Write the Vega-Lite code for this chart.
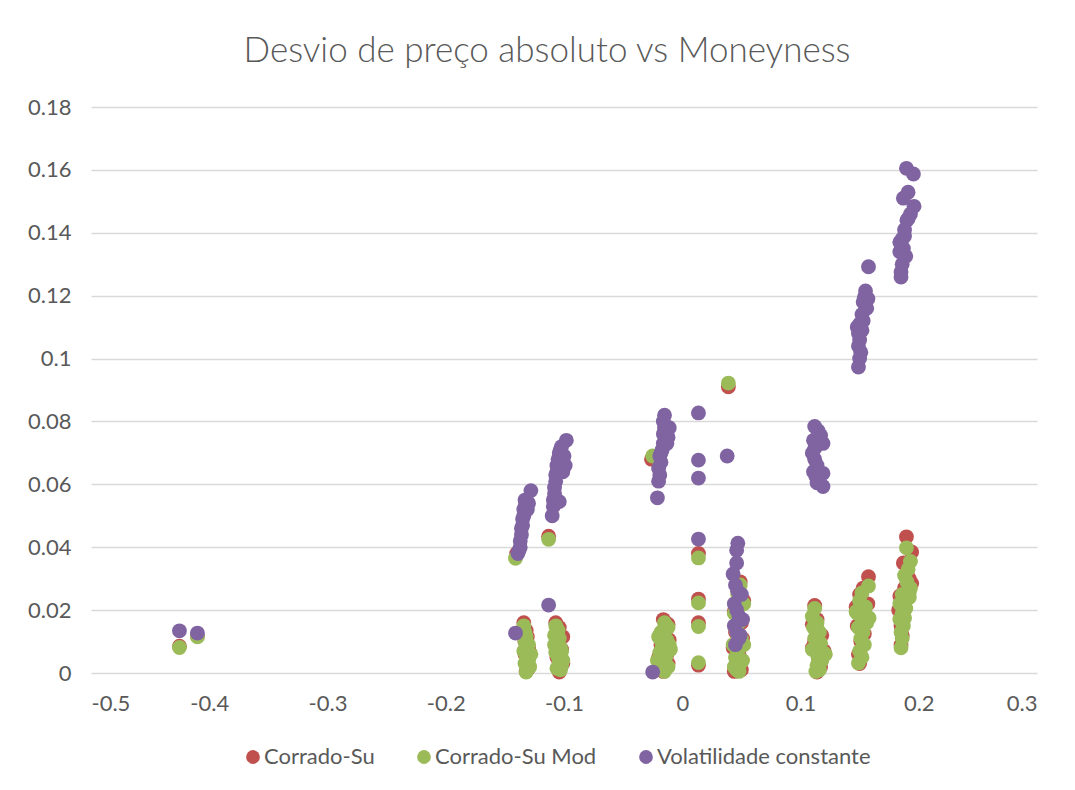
{
  "$schema": "https://vega.github.io/schema/vega-lite/v6.json",
  "autosize": {"type": "none"},
  "width": 946,
  "height": 566,
  "padding": {"left": 91, "top": 107, "right": 38, "bottom": 117},
  "background": "white",
  "title": {"text": "Desvio de preço absoluto vs Moneyness", "font": "Lato", "fontSize": 35, "fontWeight": 300, "color": "#595959", "anchor": "middle", "dx": -17, "offset": 27},
  "config": {
    "view": {"stroke": null},
    "axis": {"labelFont": "Lato", "labelFontSize": 22, "labelColor": "#595959", "domain": false, "ticks": false, "title": null, "gridColor": "#d9d9d9", "gridWidth": 1.4},
    "legend": {"orient": "none", "legendX": 151, "legendY": 639, "direction": "horizontal", "title": null, "labelFont": "Lato", "labelFontSize": 22, "labelColor": "#595959", "labelLimit": 0, "symbolType": "circle", "symbolSize": 190, "symbolStrokeWidth": 0, "columnPadding": 38, "labelOffset": 0}
  },
  "datasets": {
    "cs": [
      {"x": -0.4252, "y": 0.0085}, {"x": -0.41, "y": 0.0118},
      {"x": -0.140, "y": 0.038},
      {"x": -0.134, "y": 0.016}, {"x": -0.132, "y": 0.0135}, {"x": -0.131, "y": 0.0115}, {"x": -0.133, "y": 0.010}, {"x": -0.130, "y": 0.008}, {"x": -0.133, "y": 0.006}, {"x": -0.131, "y": 0.004}, {"x": -0.130, "y": 0.0015}, {"x": -0.132, "y": 0.0005}, {"x": -0.129, "y": 0.0065},
      {"x": -0.113, "y": 0.0435},
      {"x": -0.107, "y": 0.016}, {"x": -0.104, "y": 0.0145}, {"x": -0.101, "y": 0.0115}, {"x": -0.105, "y": 0.010}, {"x": -0.102, "y": 0.0075}, {"x": -0.106, "y": 0.005}, {"x": -0.101, "y": 0.003}, {"x": -0.104, "y": 0.0003}, {"x": -0.103, "y": 0.0015},
      {"x": -0.026, "y": 0.068},
      {"x": -0.016, "y": 0.017}, {"x": -0.012, "y": 0.0155}, {"x": -0.019, "y": 0.012}, {"x": -0.011, "y": 0.0105}, {"x": -0.018, "y": 0.009}, {"x": -0.013, "y": 0.006}, {"x": -0.020, "y": 0.005}, {"x": -0.012, "y": 0.003}, {"x": -0.016, "y": 0.0005},
      {"x": 0.0137, "y": 0.038}, {"x": 0.0137, "y": 0.0235}, {"x": 0.0137, "y": 0.016}, {"x": 0.0137, "y": 0.0025},
      {"x": 0.039, "y": 0.091},
      {"x": 0.049, "y": 0.029}, {"x": 0.047, "y": 0.026}, {"x": 0.052, "y": 0.023}, {"x": 0.044, "y": 0.0195}, {"x": 0.050, "y": 0.016}, {"x": 0.045, "y": 0.013}, {"x": 0.051, "y": 0.011}, {"x": 0.043, "y": 0.008}, {"x": 0.048, "y": 0.006}, {"x": 0.046, "y": 0.003}, {"x": 0.050, "y": 0.001}, {"x": 0.044, "y": 0.0005},
      {"x": 0.112, "y": 0.0215}, {"x": 0.114, "y": 0.017}, {"x": 0.110, "y": 0.0155}, {"x": 0.118, "y": 0.012}, {"x": 0.112, "y": 0.010}, {"x": 0.120, "y": 0.007}, {"x": 0.115, "y": 0.005}, {"x": 0.117, "y": 0.002}, {"x": 0.114, "y": 0.0003}, {"x": 0.110, "y": 0.008},
      {"x": 0.1575, "y": 0.0306}, {"x": 0.153, "y": 0.027}, {"x": 0.150, "y": 0.025}, {"x": 0.157, "y": 0.022}, {"x": 0.147, "y": 0.021}, {"x": 0.153, "y": 0.019}, {"x": 0.157, "y": 0.0175}, {"x": 0.148, "y": 0.015}, {"x": 0.154, "y": 0.0125}, {"x": 0.151, "y": 0.010}, {"x": 0.149, "y": 0.006}, {"x": 0.150, "y": 0.003},
      {"x": 0.1896, "y": 0.0433}, {"x": 0.194, "y": 0.0385}, {"x": 0.187, "y": 0.035}, {"x": 0.190, "y": 0.032}, {"x": 0.192, "y": 0.030}, {"x": 0.194, "y": 0.0285}, {"x": 0.188, "y": 0.027}, {"x": 0.184, "y": 0.0245}, {"x": 0.186, "y": 0.022}, {"x": 0.183, "y": 0.020}, {"x": 0.185, "y": 0.015}, {"x": 0.186, "y": 0.012}, {"x": 0.185, "y": 0.009}
    ],
    "csm": [
      {"x": -0.4252, "y": 0.0081}, {"x": -0.41, "y": 0.0115},
      {"x": -0.141, "y": 0.0365},
      {"x": -0.134, "y": 0.015}, {"x": -0.133, "y": 0.013}, {"x": -0.132, "y": 0.0115}, {"x": -0.133, "y": 0.010}, {"x": -0.131, "y": 0.0085}, {"x": -0.134, "y": 0.007}, {"x": -0.132, "y": 0.0055}, {"x": -0.130, "y": 0.004}, {"x": -0.133, "y": 0.003}, {"x": -0.131, "y": 0.0015}, {"x": -0.132, "y": 0.0003}, {"x": -0.129, "y": 0.002}, {"x": -0.128, "y": 0.006}, {"x": -0.130, "y": 0.009}, {"x": -0.135, "y": 0.0125},
      {"x": -0.113, "y": 0.0425},
      {"x": -0.107, "y": 0.015}, {"x": -0.105, "y": 0.0135}, {"x": -0.108, "y": 0.012}, {"x": -0.104, "y": 0.011}, {"x": -0.106, "y": 0.0095}, {"x": -0.103, "y": 0.008}, {"x": -0.107, "y": 0.0065}, {"x": -0.105, "y": 0.005}, {"x": -0.102, "y": 0.007}, {"x": -0.104, "y": 0.003}, {"x": -0.106, "y": 0.0015}, {"x": -0.103, "y": 0.001}, {"x": -0.101, "y": 0.004}, {"x": -0.108, "y": 0.009}, {"x": -0.102, "y": 0.0025},
      {"x": -0.025, "y": 0.069},
      {"x": -0.015, "y": 0.016}, {"x": -0.012, "y": 0.0145}, {"x": -0.018, "y": 0.013}, {"x": -0.020, "y": 0.0115}, {"x": -0.013, "y": 0.0105}, {"x": -0.011, "y": 0.009}, {"x": -0.017, "y": 0.008}, {"x": -0.019, "y": 0.0065}, {"x": -0.014, "y": 0.005}, {"x": -0.016, "y": 0.0035}, {"x": -0.012, "y": 0.002}, {"x": -0.015, "y": 0.0005}, {"x": -0.021, "y": 0.004}, {"x": -0.010, "y": 0.0075}, {"x": -0.018, "y": 0.0105},
      {"x": 0.0137, "y": 0.0366}, {"x": 0.0137, "y": 0.0223}, {"x": 0.0137, "y": 0.0148}, {"x": 0.0137, "y": 0.0033},
      {"x": 0.039, "y": 0.0922},
      {"x": 0.049, "y": 0.028}, {"x": 0.047, "y": 0.025}, {"x": 0.052, "y": 0.022}, {"x": 0.044, "y": 0.019}, {"x": 0.048, "y": 0.016}, {"x": 0.046, "y": 0.013}, {"x": 0.050, "y": 0.011}, {"x": 0.043, "y": 0.009}, {"x": 0.047, "y": 0.007}, {"x": 0.045, "y": 0.005}, {"x": 0.049, "y": 0.003}, {"x": 0.046, "y": 0.001}, {"x": 0.051, "y": 0.004}, {"x": 0.044, "y": 0.002}, {"x": 0.048, "y": 0.0005}, {"x": 0.052, "y": 0.009},
      {"x": 0.112, "y": 0.0205}, {"x": 0.110, "y": 0.018}, {"x": 0.114, "y": 0.016}, {"x": 0.111, "y": 0.0145}, {"x": 0.116, "y": 0.013}, {"x": 0.112, "y": 0.011}, {"x": 0.117, "y": 0.0095}, {"x": 0.113, "y": 0.008}, {"x": 0.119, "y": 0.0065}, {"x": 0.115, "y": 0.005}, {"x": 0.118, "y": 0.004}, {"x": 0.114, "y": 0.0025}, {"x": 0.116, "y": 0.001}, {"x": 0.113, "y": 0.0005}, {"x": 0.110, "y": 0.0075}, {"x": 0.121, "y": 0.006},
      {"x": 0.1575, "y": 0.0277}, {"x": 0.152, "y": 0.0255}, {"x": 0.150, "y": 0.023}, {"x": 0.155, "y": 0.021}, {"x": 0.148, "y": 0.019}, {"x": 0.152, "y": 0.0175}, {"x": 0.156, "y": 0.016}, {"x": 0.149, "y": 0.0145}, {"x": 0.153, "y": 0.013}, {"x": 0.151, "y": 0.011}, {"x": 0.154, "y": 0.009}, {"x": 0.150, "y": 0.007}, {"x": 0.152, "y": 0.005}, {"x": 0.149, "y": 0.0032}, {"x": 0.147, "y": 0.0195}, {"x": 0.158, "y": 0.0175},
      {"x": 0.1896, "y": 0.0398}, {"x": 0.193, "y": 0.0355}, {"x": 0.191, "y": 0.033}, {"x": 0.188, "y": 0.031}, {"x": 0.190, "y": 0.029}, {"x": 0.193, "y": 0.027}, {"x": 0.186, "y": 0.025}, {"x": 0.192, "y": 0.024}, {"x": 0.184, "y": 0.022}, {"x": 0.189, "y": 0.0205}, {"x": 0.186, "y": 0.019}, {"x": 0.184, "y": 0.017}, {"x": 0.187, "y": 0.015}, {"x": 0.185, "y": 0.013}, {"x": 0.186, "y": 0.011}, {"x": 0.185, "y": 0.008}, {"x": 0.188, "y": 0.0175}, {"x": 0.192, "y": 0.0255}
    ],
    "vc": [
      {"x": -0.4252, "y": 0.0134}, {"x": -0.41, "y": 0.0127},
      {"x": -0.141, "y": 0.0127},
      {"x": -0.139, "y": 0.038}, {"x": -0.138, "y": 0.039}, {"x": -0.137, "y": 0.040}, {"x": -0.137, "y": 0.042}, {"x": -0.136, "y": 0.044}, {"x": -0.136, "y": 0.046}, {"x": -0.135, "y": 0.047}, {"x": -0.135, "y": 0.049}, {"x": -0.134, "y": 0.050}, {"x": -0.134, "y": 0.052}, {"x": -0.133, "y": 0.053}, {"x": -0.133, "y": 0.055}, {"x": -0.131, "y": 0.052}, {"x": -0.130, "y": 0.054}, {"x": -0.128, "y": 0.058},
      {"x": -0.113, "y": 0.0216},
      {"x": -0.110, "y": 0.050}, {"x": -0.109, "y": 0.053}, {"x": -0.109, "y": 0.055}, {"x": -0.108, "y": 0.057}, {"x": -0.108, "y": 0.059}, {"x": -0.107, "y": 0.061}, {"x": -0.107, "y": 0.063}, {"x": -0.106, "y": 0.064}, {"x": -0.106, "y": 0.066}, {"x": -0.105, "y": 0.068}, {"x": -0.104, "y": 0.070}, {"x": -0.103, "y": 0.071}, {"x": -0.102, "y": 0.072}, {"x": -0.100, "y": 0.069}, {"x": -0.099, "y": 0.066}, {"x": -0.098, "y": 0.074}, {"x": -0.101, "y": 0.064}, {"x": -0.104, "y": 0.0545},
      {"x": -0.025, "y": 0.0003},
      {"x": -0.021, "y": 0.0557}, {"x": -0.020, "y": 0.061}, {"x": -0.019, "y": 0.063}, {"x": -0.020, "y": 0.065}, {"x": -0.018, "y": 0.067}, {"x": -0.019, "y": 0.069}, {"x": -0.017, "y": 0.071}, {"x": -0.016, "y": 0.073}, {"x": -0.014, "y": 0.074}, {"x": -0.012, "y": 0.075}, {"x": -0.016, "y": 0.076}, {"x": -0.015, "y": 0.078}, {"x": -0.011, "y": 0.078}, {"x": -0.016, "y": 0.080}, {"x": -0.015, "y": 0.082}, {"x": -0.013, "y": 0.073}, {"x": -0.018, "y": 0.070},
      {"x": 0.0137, "y": 0.0827}, {"x": 0.0137, "y": 0.0677}, {"x": 0.0137, "y": 0.062}, {"x": 0.0137, "y": 0.0426},
      {"x": 0.038, "y": 0.069},
      {"x": 0.047, "y": 0.0413}, {"x": 0.046, "y": 0.039}, {"x": 0.046, "y": 0.035}, {"x": 0.043, "y": 0.0315}, {"x": 0.045, "y": 0.028}, {"x": 0.047, "y": 0.026}, {"x": 0.050, "y": 0.025}, {"x": 0.044, "y": 0.022}, {"x": 0.046, "y": 0.020}, {"x": 0.048, "y": 0.018}, {"x": 0.051, "y": 0.017}, {"x": 0.044, "y": 0.015}, {"x": 0.046, "y": 0.013}, {"x": 0.048, "y": 0.011}, {"x": 0.045, "y": 0.009}, {"x": 0.049, "y": 0.012},
      {"x": 0.112, "y": 0.0784}, {"x": 0.115, "y": 0.077}, {"x": 0.117, "y": 0.0755}, {"x": 0.119, "y": 0.073}, {"x": 0.111, "y": 0.074}, {"x": 0.113, "y": 0.072}, {"x": 0.110, "y": 0.070}, {"x": 0.112, "y": 0.068}, {"x": 0.114, "y": 0.066}, {"x": 0.111, "y": 0.064}, {"x": 0.113, "y": 0.0625}, {"x": 0.116, "y": 0.061}, {"x": 0.119, "y": 0.0635}, {"x": 0.119, "y": 0.0593}, {"x": 0.114, "y": 0.0605}, {"x": 0.112, "y": 0.0715},
      {"x": 0.1575, "y": 0.1292}, {"x": 0.155, "y": 0.1215}, {"x": 0.157, "y": 0.119}, {"x": 0.153, "y": 0.118}, {"x": 0.156, "y": 0.116}, {"x": 0.152, "y": 0.114}, {"x": 0.150, "y": 0.111}, {"x": 0.148, "y": 0.110}, {"x": 0.149, "y": 0.108}, {"x": 0.152, "y": 0.109}, {"x": 0.150, "y": 0.106}, {"x": 0.149, "y": 0.104}, {"x": 0.151, "y": 0.102}, {"x": 0.150, "y": 0.100}, {"x": 0.149, "y": 0.0973}, {"x": 0.153, "y": 0.112}, {"x": 0.154, "y": 0.1195},
      {"x": 0.1896, "y": 0.1605}, {"x": 0.1955, "y": 0.1587}, {"x": 0.191, "y": 0.1529}, {"x": 0.187, "y": 0.151}, {"x": 0.196, "y": 0.1484}, {"x": 0.193, "y": 0.146}, {"x": 0.190, "y": 0.144}, {"x": 0.188, "y": 0.141}, {"x": 0.186, "y": 0.138}, {"x": 0.184, "y": 0.137}, {"x": 0.187, "y": 0.135}, {"x": 0.189, "y": 0.1325}, {"x": 0.186, "y": 0.130}, {"x": 0.185, "y": 0.1275}, {"x": 0.185, "y": 0.1259}, {"x": 0.184, "y": 0.134}, {"x": 0.188, "y": 0.139}, {"x": 0.191, "y": 0.1445}
    ]
  },
  "encoding": {
    "x": {"field": "x", "type": "quantitative", "scale": {"domain": [-0.5, 0.3], "nice": false, "zero": false},
      "axis": {"grid": false, "values": [-0.5, -0.4, -0.3, -0.2, -0.1, 0, 0.1, 0.2, 0.3], "labelExpr": "'' + datum.value", "labelPadding": 20}},
    "y": {"field": "y", "type": "quantitative", "scale": {"domain": [0, 0.18], "nice": false},
      "axis": {"grid": true, "values": [0, 0.02, 0.04, 0.06, 0.08, 0.1, 0.12, 0.14, 0.16, 0.18], "labelExpr": "'' + datum.value", "labelPadding": 20}}
  },
  "layer": [
    {"data": {"name": "cs"}, "mark": {"type": "circle", "size": 220, "opacity": 1},
      "encoding": {"color": {"datum": "Corrado-Su", "type": "nominal", "scale": {"domain": ["Corrado-Su", "Corrado-Su Mod", "Volatilidade constante"], "range": ["#C0504D", "#9BBB59", "#8064A2"]}}}},
    {"data": {"name": "csm"}, "mark": {"type": "circle", "size": 220, "opacity": 1},
      "encoding": {"color": {"datum": "Corrado-Su Mod", "type": "nominal"}}},
    {"data": {"name": "vc"}, "mark": {"type": "circle", "size": 220, "opacity": 1},
      "encoding": {"color": {"datum": "Volatilidade constante", "type": "nominal"}}}
  ]
}
